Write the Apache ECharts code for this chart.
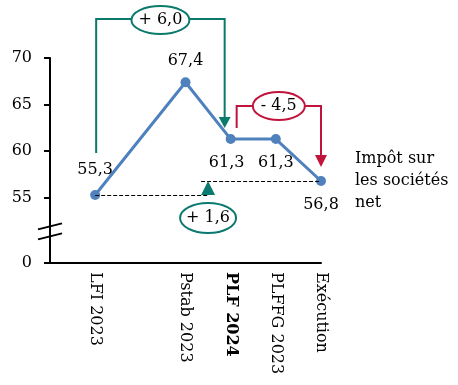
<!DOCTYPE html>
<html><head><meta charset="utf-8">
<script src="https://cdn.jsdelivr.net/npm/echarts@6/dist/echarts.min.js"></script>
<style>html,body{margin:0;padding:0;background:#fff}#c{width:458px;height:385px}</style>
</head><body><div id="c"></div>
<script>
// ---- data ----
const categories = ['', 'LFI 2023', '', 'Pstab 2023', 'PLF 2024', 'PLFFG 2023', 'Exécution'];
const values = ['-', 55.3, '-', 67.4, 61.3, 61.3, 56.8];
const labelPositions = ['', 'top', '', 'top', 'bottom', 'bottom', 'bottom'];
const boldCategory = 'PLF 2024';
const yTickValues = [0, 55, 60, 65, 70];
const seriesName = 'Impôt sur\nles sociétés\nnet';
const deltaLabels = ['+ 6,0', '- 4,5', '+ 1,6'];

const FONT = 'DejaVu Serif';
const FS = 16;
const BLUE = '#4f81bd', GREEN = '#0b7a6e', RED = '#c0143c';
const fmt = v => v.toFixed(1).replace('.', ',');
const labelDistance = [0, 12, 0, 8, 11, 11, 11];
const labelOffset = [[0, 0], [0, 0], [0, 0], [0, 0], [-4, 0], [0, 0], [0, 0]];

const chart = echarts.init(document.getElementById('c'), null, {renderer: 'canvas'});
chart.setOption({
  animation: false,
  textStyle: {fontFamily: FONT},
  grid: {left: 50, right: 137, top: 58, bottom: 122, containLabel: false},
  xAxis: {
    type: 'category', data: categories, boundaryGap: false,
    axisLine: {lineStyle: {color: '#000', width: 2}},
    axisTick: {show: false},
    axisLabel: {
      interval: 0, rotate: -90, margin: 9, color: '#000', fontSize: FS, fontFamily: FONT,
      formatter: v => v === boldCategory ? '{b|' + v + '}' : v,
      rich: {b: {fontWeight: 'bold', fontSize: FS, fontFamily: FONT, color: '#000'}}
    },
    splitLine: {show: false}
  },
  yAxis: {
    type: 'value', min: 0, max: 70, interval: 5,
    breaks: [{start: 1.5, end: 53.5, gap: 4}],
    breakArea: {show: false},
    axisLine: {show: true, lineStyle: {color: '#000', width: 2}},
    axisTick: {show: true, length: 6, lineStyle: {color: '#000', width: 2}, customValues: yTickValues},
    axisLabel: {color: '#000', fontSize: FS, fontFamily: FONT, margin: 18, customValues: yTickValues},
    splitLine: {show: false}
  },
  series: [{
    type: 'line', name: seriesName,
    data: values.map((v, i) => v === '-' ? '-' : {
      value: v,
      label: {show: true, position: labelPositions[i], distance: labelDistance[i], offset: labelOffset[i]}
    }),
    connectNulls: true,
    symbol: 'circle', symbolSize: 10,
    lineStyle: {color: BLUE, width: 3},
    itemStyle: {color: BLUE},
    label: {color: '#000', fontSize: FS, fontFamily: FONT, formatter: p => fmt(p.value)},
    endLabel: {show: true, formatter: p => p.seriesName, distance: 34, color: '#000', fontSize: FS, fontFamily: FONT, lineHeight: 22, align: 'left'}
  }]
});

// ---- annotations positioned through the chart's own scales ----
const P = (i, v) => chart.convertToPixel({xAxisIndex: 0, yAxisIndex: 0}, [i, v]);
const iLFI = 1, iPstab = 3, iPLF = 4, iExec = 6;
const g = [];
const line = (pts, color, w, dash) => g.push({type: 'polyline', shape: {points: pts}, style: {stroke: color, lineWidth: w || 2, fill: null, lineDash: dash || null}, z: 10});
const tri = (pts, color) => g.push({type: 'polygon', shape: {points: pts}, style: {fill: color, stroke: null}, z: 11});
const oval = (cx, cy, rx, ry, color, txt) => {
  g.push({type: 'ellipse', shape: {cx, cy, rx, ry}, style: {fill: '#fff', stroke: color, lineWidth: 2}, z: 12});
  g.push({type: 'text', x: cx, y: cy, style: {text: txt, fill: '#000', font: FS + 'px ' + FONT, align: 'center', verticalAlign: 'middle'}, z: 13});
};
const crisp = y => Math.round(y) + 0.5;

// green bracket LFI -> PLF 2024
const topY = 19;
const xL = P(iLFI, 0)[0] + 1;
const yL = P(iLFI, 59.8)[1];
const xR = P(iPLF, 0)[0] - 6;
const yPLF = P(iPLF, values[iPLF])[1];
const gTip = yPLF - 11, gBase = gTip - 11;
line([[xL, yL], [xL, topY], [xR, topY], [xR, gBase]], GREEN, 2);
tri([[xR - 6, gBase], [xR + 6, gBase], [xR, gTip]], GREEN);
oval((xL + xR) / 2, topY + 1, 29, 14, GREEN, deltaLabels[0]);

// red bracket PLF 2024 -> Exécution
const xl2 = P(iPLF, 0)[0] + 6;
const xr2 = P(iExec, 0)[0];
const rTop = yPLF - 33;
const yEx = P(iExec, values[iExec])[1];
const rTip = yEx - 14, rBase = rTip - 12;
line([[xl2, gTip], [xl2, rTop], [xr2, rTop], [xr2, rBase]], RED, 2);
tri([[xr2 - 6, rBase], [xr2 + 6, rBase], [xr2, rTip]], RED);
oval((xl2 + xr2) / 2, rTop, 26, 14, RED, deltaLabels[1]);

// dashed comparison LFI vs Exécution
const xTri = (P(iPstab, 0)[0] + P(iPLF, 0)[0]) / 2;
const yLow = P(iLFI, values[iLFI])[1];
const yHigh = P(iExec, values[iExec])[1];
line([[P(iLFI, 0)[0], crisp(yLow)], [xTri, crisp(yLow)]], '#000', 1, [4, 2]);
line([[xTri - 7, crisp(yHigh)], [xr2, crisp(yHigh)]], '#000', 1, [4, 2]);
tri([[xTri - 7, yLow], [xTri + 7, yLow], [xTri, yHigh]], GREEN);
oval(xTri, yLow + 23, 28, 15, GREEN, deltaLabels[2]);

// axis line through the break + break marks
const yAx = P(0, 0)[0];
const y0 = P(0, 0)[1], y55 = P(0, 55)[1];
g.push({type: 'line', shape: {x1: yAx, y1: y0, x2: yAx, y2: y55}, style: {stroke: '#000', lineWidth: 2}, z: 9});
const yb = (P(0, 1.5)[1] + P(0, 53.5)[1]) / 2;
g.push({type: 'line', shape: {x1: yAx - 12, y1: yb - 1, x2: yAx + 12, y2: yb - 7}, style: {stroke: '#000', lineWidth: 2}, z: 15});
g.push({type: 'line', shape: {x1: yAx - 12, y1: yb + 9, x2: yAx + 12, y2: yb + 3}, style: {stroke: '#000', lineWidth: 2}, z: 15});

chart.setOption({graphic: g});
</script>
</body></html>
